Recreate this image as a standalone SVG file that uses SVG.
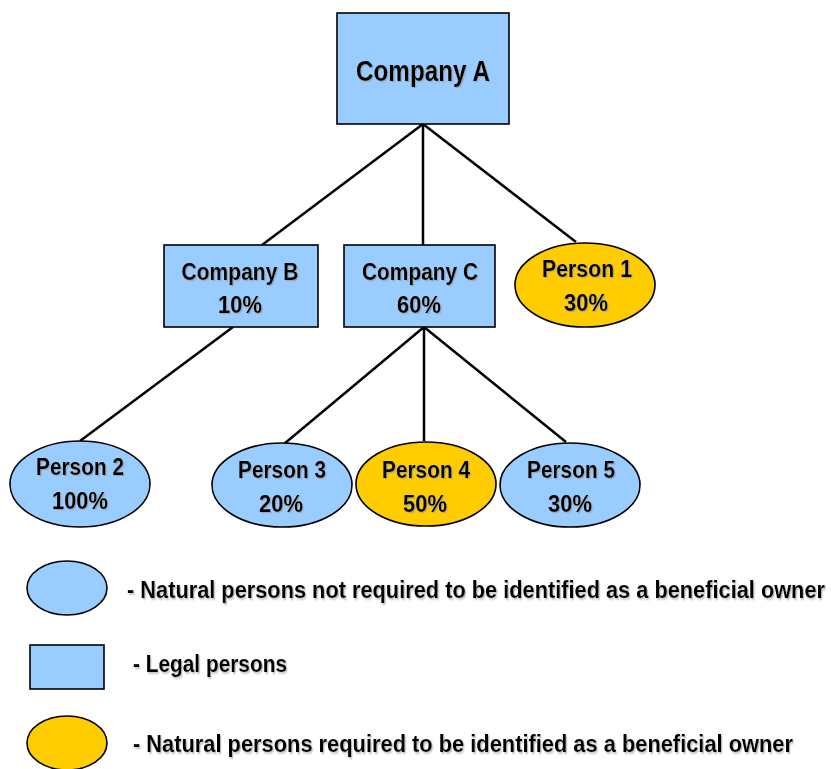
<svg xmlns="http://www.w3.org/2000/svg" width="831" height="769" viewBox="0 0 831 769">
<defs>
<filter id="sh" filterUnits="userSpaceOnUse" x="-1000" y="-1000" width="3000" height="3000">
<feDropShadow dx="1.2" dy="1.2" stdDeviation="0.6" flood-color="#999" flood-opacity="0.7"/>
</filter>
<style>
.blue{fill:#99CCFF;stroke:#000;stroke-width:1.6}
.gold{fill:#FFCC00;stroke:#000;stroke-width:1.6}
.t{font-family:"Liberation Sans Narrow","Liberation Sans",Arial,sans-serif;font-weight:bold;fill:#000;text-anchor:middle;filter:url(#sh)}
.n{font-size:24px}
.big{font-size:29px}
.lg{font-size:18px;text-anchor:start}
.c{stroke:#000;stroke-width:2.5;fill:none}
</style>
</defs>
<rect width="831" height="769" fill="#fff"/>
<g id="connectors">
<line class="c" x1="423" y1="124" x2="262" y2="245"/>
<line class="c" x1="423" y1="124" x2="423" y2="245"/>
<line class="c" x1="423" y1="124" x2="576" y2="242"/>
<line class="c" x1="233" y1="327" x2="80" y2="441"/>
<line class="c" x1="424" y1="327" x2="284" y2="444"/>
<line class="c" x1="424" y1="327" x2="424" y2="441"/>
<line class="c" x1="424" y1="327" x2="566" y2="442"/>
</g>
<g id="companyA">
<rect class="blue" x="337" y="13" width="172" height="111"/>
<text class="t big" x="423" y="81" textLength="134" lengthAdjust="spacingAndGlyphs">Company A</text>
</g>
<g id="companyB">
<rect class="blue" x="164" y="245" width="154" height="82"/>
<text class="t n" x="240" y="280" textLength="117" lengthAdjust="spacingAndGlyphs">Company B</text>
<text class="t n" x="240" y="313" textLength="44" lengthAdjust="spacingAndGlyphs">10%</text>
</g>
<g id="companyC">
<rect class="blue" x="344" y="245" width="151" height="82"/>
<text class="t n" x="420" y="280" textLength="116" lengthAdjust="spacingAndGlyphs">Company C</text>
<text class="t n" x="419" y="313" textLength="44" lengthAdjust="spacingAndGlyphs">60%</text>
</g>
<g id="person1">
<ellipse class="gold" cx="585" cy="285" rx="70" ry="42"/>
<text class="t n" x="587" y="277" textLength="90" lengthAdjust="spacingAndGlyphs">Person 1</text>
<text class="t n" x="586" y="311" textLength="44" lengthAdjust="spacingAndGlyphs">30%</text>
</g>
<g id="person2">
<ellipse class="blue" cx="80" cy="484" rx="70" ry="43"/>
<text class="t n" x="80" y="475" textLength="88" lengthAdjust="spacingAndGlyphs">Person 2</text>
<text class="t n" x="80" y="509" textLength="56" lengthAdjust="spacingAndGlyphs">100%</text>
</g>
<g id="person3">
<ellipse class="blue" cx="282" cy="485" rx="70" ry="42"/>
<text class="t n" x="282" y="478" textLength="88" lengthAdjust="spacingAndGlyphs">Person 3</text>
<text class="t n" x="281" y="512" textLength="44" lengthAdjust="spacingAndGlyphs">20%</text>
</g>
<g id="person4">
<ellipse class="gold" cx="426" cy="484" rx="70" ry="42"/>
<text class="t n" x="426" y="478" textLength="88" lengthAdjust="spacingAndGlyphs">Person 4</text>
<text class="t n" x="425" y="512" textLength="44" lengthAdjust="spacingAndGlyphs">50%</text>
</g>
<g id="person5">
<ellipse class="blue" cx="570" cy="485" rx="70" ry="42"/>
<text class="t n" x="571" y="478" textLength="88" lengthAdjust="spacingAndGlyphs">Person 5</text>
<text class="t n" x="570" y="512" textLength="44" lengthAdjust="spacingAndGlyphs">30%</text>
</g>
<g id="legend-natural-not-required">
<ellipse class="blue" cx="67" cy="588" rx="40" ry="27"/>
<text class="t lg" transform="translate(127,598) scale(1,1.33)" x="0" y="0" textLength="698" lengthAdjust="spacingAndGlyphs">- Natural persons not required to be identified as a beneficial owner</text>
</g>
<g id="legend-legal">
<rect class="blue" x="30" y="645" width="74" height="44"/>
<text class="t lg" transform="translate(133,672) scale(1,1.33)" x="0" y="0" textLength="154" lengthAdjust="spacingAndGlyphs">- Legal persons</text>
</g>
<g id="legend-natural-required">
<ellipse class="gold" cx="67" cy="743" rx="40" ry="27"/>
<text class="t lg" transform="translate(133,752) scale(1,1.33)" x="0" y="0" textLength="660" lengthAdjust="spacingAndGlyphs">- Natural persons required to be identified as a beneficial owner</text>
</g>
</svg>
